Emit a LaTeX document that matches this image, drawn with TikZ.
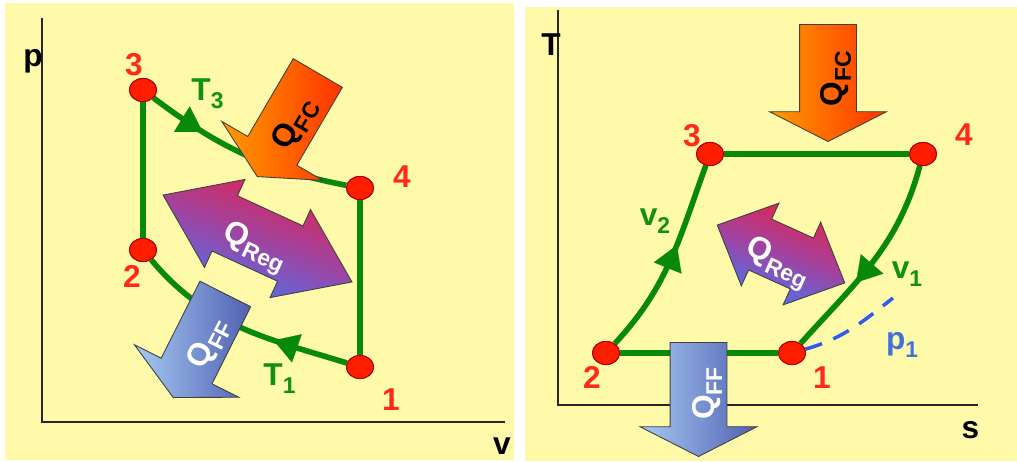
\documentclass[tikz,border=0pt]{standalone}
\usepackage{fontspec}
\setmainfont{Liberation Sans}
\usepackage{xcolor}
\usepackage{tikz}
\usetikzlibrary{arrows.meta,shapes.geometric,shapes.arrows,decorations.markings}
\definecolor{panelYellow}{HTML}{FFFAAA}
\definecolor{cycleGreen}{HTML}{088A08}
\definecolor{labelGreen}{HTML}{129012}
\definecolor{pointRed}{HTML}{FF1E00}
\definecolor{pointEdge}{HTML}{B00000}
\definecolor{numRed}{HTML}{FF2A1A}
\definecolor{isoBlue}{HTML}{2E5BF0}
\definecolor{labelBlue}{HTML}{4570E0}
\definecolor{fcOrange}{HTML}{FF9C00}
\definecolor{fcRed}{HTML}{FF3300}
\definecolor{ffLight}{HTML}{A6CAF2}
\definecolor{ffDark}{HTML}{5060B2}
\definecolor{regRed}{HTML}{E4234A}
\definecolor{regPurple}{HTML}{A043A0}
\definecolor{regBlue}{HTML}{4A74F0}
\newcommand{\lowsub}[1]{\raisebox{-0.25em}{\fontsize{13}{14}\selectfont #1}}

\begin{document}
\begin{tikzpicture}[x=0.02cm,y=0.02cm,
    panel/.style={fill=panelYellow,draw=none},
    axisline/.style={draw=black!85,line width=1pt},
    txt/.style={font=\fontsize{18}{20}\selectfont\bfseries,inner sep=0pt},
    num/.style={txt,text=numRed},
    proc/.style={txt,text=labelGreen},
    statept/.style={ellipse,draw=pointEdge,line width=0.6pt,fill=pointRed,
                    minimum width=0.54cm,minimum height=0.46cm,inner sep=0pt},
    cycleline/.style={draw=cycleGreen,line width=3.2pt},
    flow/.style={cycleline,postaction={decorate},
                 decoration={markings,mark=at position #1 with
                   {\arrow[cycleGreen]{Triangle[length=14pt,width=17pt,line width=0.1pt]}}}},
    isoline/.style={draw=isoBlue,line width=2pt,dash pattern=on 10pt off 7pt},
    heatarrow/.style={single arrow,shape border rotate=180,anchor=tip,draw=black!75,line width=0.5pt,
                      inner sep=0pt,text height=1.12cm,text depth=0pt,minimum width=2.32cm,
                      single arrow head extend=0.6cm,single arrow tip angle=126},
    fcfill/.style={left color=fcOrange,right color=fcRed},
    fffill/.style={left color=ffLight,right color=ffDark},
    regarrow/.style={double arrow,draw=black!75,line width=0.5pt,inner sep=0pt,text depth=0pt,
                     top color=regRed,bottom color=regBlue,middle color=regPurple,shading angle=-20}]

  \useasboundingbox (0,0) rectangle (1017,461);
  \fill[panel] (5,1) rectangle (514,458);
  \fill[panel] (525,0) rectangle (1017,454);

  % p-v diagram
  \draw[axisline] (42,443) -- (42,39) -- (505,39);
  \node[txt] (pAxis) at (33,400) {p};
  \node[txt] (vAxis) at (502,15) {v};

  \node[statept] (lThree) at (143,371) {};
  \node[statept] (lFour) at (360,273) {};
  \node[statept] (lTwo) at (143,211) {};
  \node[statept] (lOne) at (360,94) {};

  \draw[cycleline] (lThree) -- (lTwo);
  \draw[cycleline] (lFour) -- (lOne);
  \draw[flow=0.28] (lThree) to[out=-37,in=169] (lFour);
  \draw[flow=0.34] (lOne) to[out=163,in=-50] (lTwo);

  \node[heatarrow,fcfill,rotate=59.7,minimum height=2.4cm] (qfcL) at (257,284) {};
  \node[heatarrow,fffill,rotate=63.3,minimum height=2.32cm] (qffL) at (173,63) {};
  \node[regarrow,rotate=-24.7,text height=1.2cm,minimum height=4.16cm,minimum width=1.92cm,
        double arrow head extend=0.36cm,double arrow tip angle=71] (qregL) at (257.5,222.5) {};
  \node[txt,rotate=59.7] (qfcLText) at (295,337) {Q\lowsub{FC}};
  \node[txt,text=white,rotate=63.3] (qffLText) at (209,117.5) {Q\lowsub{FF}};
  \node[txt,text=white,rotate=-24.7] (qregLText) at (254,213) {Q\lowsub{Reg}};

  \node[statept] at (lThree) {};
  \node[statept] at (lFour) {};
  \node[statept] at (lTwo) {};
  \node[statept] at (lOne) {};
  \node[num] (lThreeNum) at (134,396) {3};
  \node[num] (lFourNum) at (402,284) {4};
  \node[num] (lTwoNum) at (132,185) {2};
  \node[num] (lOneNum) at (391,61) {1};
  \node[proc] (tThree) at (207.5,367.5) {T\lowsub{3}};
  \node[proc] (tOne) at (279.5,82.5) {T\lowsub{1}};

  % T-s diagram
  \draw[axisline] (558,451) -- (558,56) -- (978,56);
  \node[txt] (tAxis) at (551,416.5) {T};
  \node[txt] (sAxis) at (970.5,31) {s};

  \node[statept] (rThree) at (710,307) {};
  \node[statept] (rFour) at (923,307) {};
  \node[statept] (rTwo) at (606,108) {};
  \node[statept] (rOne) at (792,108) {};
  \coordinate (isoEnd) at (893,163);

  \draw[cycleline] (rThree) -- (rFour);
  \draw[cycleline] (rTwo) -- (rOne);
  \draw[flow=0.58] (rTwo) to[out=47,in=250] (rThree);
  \draw[flow=0.62] (rFour) to[out=255,in=48] (rOne);
  \draw[isoline] (rOne) to[out=16,in=218] (isoEnd);

  \node[heatarrow,fcfill,rotate=90,minimum height=2.34cm] (qfcR) at (828,319) {};
  \node[heatarrow,fffill,rotate=90,minimum height=2.28cm] (qffR) at (698.5,4) {};
  \node[regarrow,rotate=-24.4,text height=1.1cm,minimum height=2.8cm,minimum width=1.8cm,
        double arrow head extend=0.35cm,double arrow tip angle=88] (qregR) at (781,207) {};
  \node[txt,rotate=90] (qfcRText) at (836,382.5) {Q\lowsub{FC}};
  \node[txt,text=white,rotate=90] (qffRText) at (707,67.5) {Q\lowsub{FF}};
  \node[txt,text=white,rotate=-24.4] (qregRText) at (777,197.5) {Q\lowsub{Reg}};

  \node[statept] at (rThree) {};
  \node[statept] at (rFour) {};
  \node[statept] at (rTwo) {};
  \node[statept] at (rOne) {};
  \node[num] (rThreeNum) at (692,325) {3};
  \node[num] (rFourNum) at (964,326) {4};
  \node[num] (rTwoNum) at (592,84) {2};
  \node[num] (rOneNum) at (822,83) {1};
  \node[proc] (vTwo) at (655,240) {v\lowsub{2}};
  \node[proc] (vOne) at (907,186.5) {v\lowsub{1}};
  \node[txt,text=labelBlue] (pOne) at (902,116) {p\lowsub{1}};
\end{tikzpicture}
\end{document}
